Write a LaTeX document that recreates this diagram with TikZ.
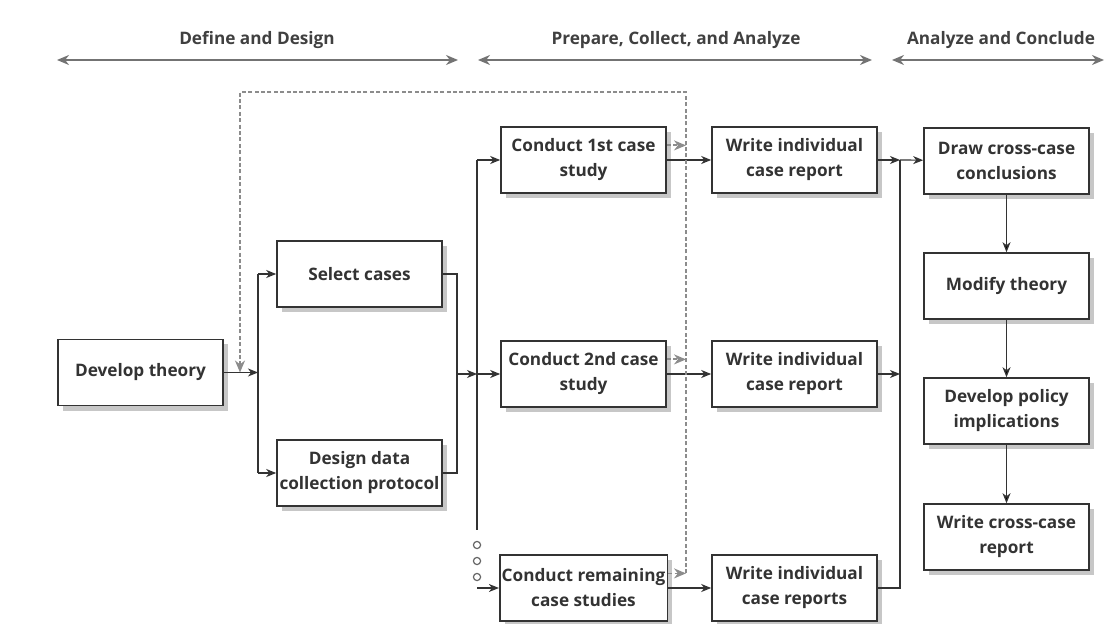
\documentclass[tikz,border=0pt]{standalone}
\usepackage{fontspec}
\setmainfont{Open Sans}
\usetikzlibrary{arrows.meta,positioning,shadows}

\tikzset{
  box/.style={draw=black!80,line width=0.8pt,fill=white,text=black!80,
    minimum width=82.5pt,minimum height=33pt,align=center,inner sep=1pt,
    font=\bfseries\fontsize{8.6}{12.5}\selectfont,
    drop shadow={shadow xshift=2.5pt,shadow yshift=-2.5pt,fill=black!22,opacity=1}},
  flow/.style={draw=black!80,line width=0.6pt,-{Stealth[length=5pt,width=4pt,inset=1.5pt]}},
  bus/.style={draw=black!80,line width=0.6pt},
  feedback/.style={draw=black!45,line width=0.9pt,dash pattern=on 2pt off 1.2pt},
  phase/.style={draw=black!55,line width=0.9pt,
    {Stealth[length=6pt,width=5pt]}-{Stealth[length=6pt,width=5pt]}},
  head/.style={text=black!75,font=\bfseries\fontsize{8.6}{10}\selectfont}
}

\begin{document}
\begin{tikzpicture}[x=0.5pt,y=-0.5pt,node distance=105.5pt,on grid]
  \useasboundingbox (0,0) rectangle (1106,624);

  % phase headings
  \node[head] (define) at (257,40) {Define and Design};
  \node[head] (prepare) at (676,40) {Prepare, Collect, and Analyze};
  \node[head] (conclude) at (1001,40) {Analyze and Conclude};
  \coordinate (p1a) at (57,60);  \coordinate (p1b) at (458,60);
  \coordinate (p2a) at (478,60); \coordinate (p2b) at (872,60);
  \coordinate (p3a) at (892,60); \coordinate (p3b) at (1104,60);
  \draw[phase] (p1a) -- (p1b);
  \draw[phase] (p2a) -- (p2b);
  \draw[phase] (p3a) -- (p3b);

  % boxes
  \node[box] (theory) at (140.5,372.5) {Develop theory};
  \node[box] (select) at (359.5,274) {Select cases};
  \node[box] (design) at (359.5,473) {Design data\\collection protocol};
  \node[box] (case1) at (583.5,160) {Conduct 1st case\\study};
  \node[box] (case2) at (583.5,374) {Conduct 2nd case\\study};
  \node[box] (case3) at (583.5,588) {Conduct remaining\\case studies};
  \node[box] (report1) [right=of case1] {Write individual\\case report};
  \node[box] (report2) [right=of case2] {Write individual\\case report};
  \node[box] (report3) [right=of case3] {Write individual\\case reports};
  \node[box] (cross) at (1006.5,161) {Draw cross-case\\conclusions};
  \node[box] (modify) [below=62.5pt of cross] {Modify theory};
  \node[box] (policy) [below=62.5pt of modify] {Develop policy\\implications};
  \node[box] (final) [below=63pt of policy] {Write cross-case\\report};

  % buses
  \coordinate (busA) at (258,0);
  \coordinate (merge) at (457,374);
  \coordinate (busB) at (477,0);
  \coordinate (busBend) at (477,530);
  \coordinate (busC) at (900,0);

  \draw[flow] (theory) -- (theory -| busA);
  \draw[bus] (select -| busA) -- (design -| busA);
  \draw[flow] (select -| busA) -- (select);
  \draw[flow] (design -| busA) -- (design);
  \draw[bus] (select) -| (merge);
  \draw[bus] (design) -| (merge);
  \draw[flow] (merge) -- (case2 -| busB);
  \draw[bus] (case1 -| busB) -- (busBend);
  \draw[flow] (case1 -| busB) -- (case1);
  \draw[flow] (case2 -| busB) -- (case2);
  \draw[flow] (case3 -| busB) -- (case3);
  \foreach \y in {545,561,577}
    \draw[black!60,line width=0.6pt] (477,\y) circle (1.8pt);

  \draw[flow] (case1) -- (report1);
  \draw[flow] (case2) -- (report2);
  \draw[flow] (case3) -- (report3);

  \draw[flow] (report1) -- (report1 -| busC);
  \draw[flow] (report2) -- (report2 -| busC);
  \draw[bus] (report3) -| (report1 -| busC);
  \draw[flow] (report1 -| busC) -- (cross);

  \path[flow]
    (cross) edge (modify)
    (modify) edge (policy)
    (policy) edge (final);

  % feedback loop
  \coordinate (fbR) at (686,92);
  \coordinate (fbL) at (240,92);
  \foreach \c in {case1,case2,case3}
    \draw[feedback,-{Stealth[length=6pt,width=5pt,fill=black!45]}]
      ([yshift=7.3pt]\c.east) -- ([yshift=7.3pt]\c.east -| fbR);
  \draw[feedback,-{Stealth[length=6pt,width=5pt,fill=black!45]}]
    ([yshift=7.3pt]case3.east -| fbR) -- (fbR) -- (fbL) -- (fbL |- theory);
\end{tikzpicture}
\end{document}
